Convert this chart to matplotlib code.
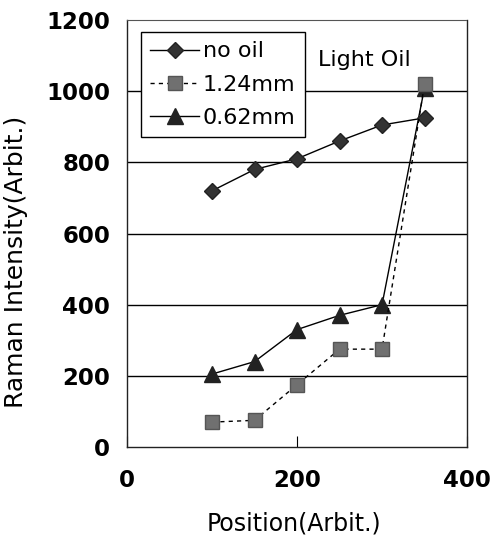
import matplotlib
matplotlib.use("Agg")
import matplotlib.pyplot as plt

positions = [100, 150, 200, 250, 300, 350]
no_oil = [720, 780, 810, 860, 905, 925]
mm124 = [70, 75, 175, 275, 275, 1020]
mm062 = [205, 240, 330, 370, 400, 1010]
series_labels = ["no oil", "1.24mm", "0.62mm"]
yticks = [0, 200, 400, 600, 800, 1000, 1200]
xticks = [0, 200, 400]

fig = plt.figure(figsize=(4.95, 5.47), dpi=100)
ax = fig.add_axes([0.2566, 0.1828, 0.6869, 0.7806])

for y in yticks[1:-1]:
    ax.axhline(y, color="black", lw=1.0, zorder=1)

ax.plot(positions, mm062, color="black", lw=1.0, marker="^", ms=11,
        mfc="#222222", mec="#222222", label=series_labels[2], zorder=3)
ax.plot(positions, mm124, color="black", lw=1.0, ls=(0, (3, 3)), marker="s", ms=9.5,
        mfc="#707070", mec="#555555", label=series_labels[1], zorder=4)
ax.plot(positions, no_oil, color="black", lw=1.0, marker="D", ms=8.5,
        mfc="#333333", mec="#222222", label=series_labels[0], zorder=3)

ax.set_xlim(0, 400)
ax.set_ylim(0, 1200)
ax.set_xticks(xticks)
ax.set_yticks(yticks)
ax.tick_params(axis="y", length=0, pad=12, labelsize=16.5)
ax.tick_params(axis="x", direction="in", length=8, pad=16, labelsize=16.5)
for lab in ax.get_xticklabels() + ax.get_yticklabels():
    lab.set_fontweight("bold")

ax.set_xlabel("Position(Arbit.)", fontsize=17)
ax.set_ylabel("Raman Intensity(Arbit.)", fontsize=18)
ax.xaxis.set_label_coords(0.49, -0.15)
ax.yaxis.set_label_coords(-0.29, 0.433)

for s in ["left", "right", "bottom"]:
    ax.spines[s].set_color("#222222")
    ax.spines[s].set_linewidth(1.0)
ax.spines["top"].set_linestyle((0, (2, 1)))
ax.spines["top"].set_color("#555555")
ax.spines["top"].set_linewidth(0.8)

ax.text(225, 1087, "Light Oil", fontsize=16, va="center", ha="left")

handles, labels = ax.get_legend_handles_labels()
order = [2, 1, 0]
leg = ax.legend([handles[i] for i in order], [labels[i] for i in order],
                loc="upper left", bbox_to_anchor=(0.041, 0.972), borderaxespad=0,
                fontsize=16, frameon=True, fancybox=False, framealpha=1,
                edgecolor="black", handlelength=2.2, handletextpad=0.15,
                labelspacing=0.6, borderpad=0.42)
leg.get_frame().set_linewidth(1.0)

fig.savefig("out.png", dpi=100)
